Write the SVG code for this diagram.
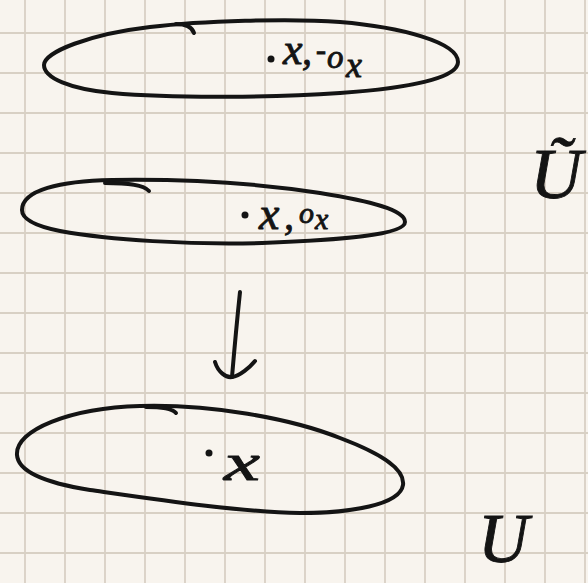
<svg xmlns="http://www.w3.org/2000/svg" width="588" height="583" viewBox="0 0 588 583">
<style>
.ink{fill:none;stroke:#141414;stroke-width:4;stroke-linecap:round;stroke-linejoin:round}
.grid line{stroke:#d8d0c4;stroke-width:1.8}
.lbl{font-family:"Liberation Serif","DejaVu Serif",serif;font-style:italic;fill:#141414;stroke:#141414;stroke-width:0.9}
.dot{fill:#141414}
</style>
<rect width="588" height="583" fill="#f8f4ee"/>
<g class="grid">
<line x1="25" y1="0" x2="25" y2="583"/><line x1="65" y1="0" x2="65" y2="583"/><line x1="105" y1="0" x2="105" y2="583"/><line x1="145" y1="0" x2="145" y2="583"/><line x1="185" y1="0" x2="185" y2="583"/><line x1="225" y1="0" x2="225" y2="583"/><line x1="265" y1="0" x2="265" y2="583"/><line x1="305" y1="0" x2="305" y2="583"/><line x1="345" y1="0" x2="345" y2="583"/><line x1="385" y1="0" x2="385" y2="583"/><line x1="425" y1="0" x2="425" y2="583"/><line x1="465" y1="0" x2="465" y2="583"/><line x1="505" y1="0" x2="505" y2="583"/><line x1="545" y1="0" x2="545" y2="583"/><line x1="585" y1="0" x2="585" y2="583"/>
<line x1="0" y1="33" x2="588" y2="33"/><line x1="0" y1="73" x2="588" y2="73"/><line x1="0" y1="113" x2="588" y2="113"/><line x1="0" y1="153" x2="588" y2="153"/><line x1="0" y1="193" x2="588" y2="193"/><line x1="0" y1="233" x2="588" y2="233"/><line x1="0" y1="273" x2="588" y2="273"/><line x1="0" y1="313" x2="588" y2="313"/><line x1="0" y1="353" x2="588" y2="353"/><line x1="0" y1="393" x2="588" y2="393"/><line x1="0" y1="433" x2="588" y2="433"/><line x1="0" y1="473" x2="588" y2="473"/><line x1="0" y1="513" x2="588" y2="513"/><line x1="0" y1="553" x2="588" y2="553"/>
</g>
<g id="sheet-minus">
<path class="ink" d="M 44,65 C 44,52 90,34 150,27 C 200,21 290,18 340,22 C 400,27 458,42 458,62 C 458,78 410,88 340,93 C 280,97 180,99 112,93 C 70,89 44,78 44,65 Z"/>
<path class="ink" d="M 176,24 C 186,24 192,27 194,33"/>
<circle class="dot" cx="271" cy="59" r="3.5"/>
<text class="lbl" y="64"><tspan x="283" font-size="44">x</tspan><tspan x="302" font-size="40">,</tspan><tspan x="316" y="60" font-size="30">-</tspan><tspan x="327" y="68" font-size="33">o</tspan><tspan x="346" y="77" font-size="36">x</tspan></text>
</g>
<g id="sheet-plus">
<path class="ink" d="M 22,210 C 22,190 60,181 112,180 C 180,179 250,182 320,193 C 370,201 405,210 405,222 C 405,235 340,240 262,243 C 190,245 110,240 60,231 C 35,226 22,219 22,210 Z"/>
<path class="ink" d="M 105,183 C 125,183 143,184 149,191"/>
<circle class="dot" cx="245" cy="215" r="3.5"/>
<text class="lbl" y="229"><tspan x="259" font-size="46">x</tspan><tspan x="284" font-size="40">,</tspan><tspan x="299" y="223" font-size="30">o</tspan><tspan x="315" y="229" font-size="30">x</tspan></text>
</g>
<g id="base">
<path class="ink" d="M 17,455 C 15,430 70,408 140,406 C 210,404 290,418 340,438 C 385,455 405,470 403,485 C 400,505 350,513 300,513 C 240,512 160,500 90,490 C 40,482 18,470 17,455 Z"/>
<path class="ink" d="M 146,407 C 160,407 172,408 176,413"/>
<circle class="dot" cx="209" cy="453" r="3.5"/>
<text class="lbl" x="224" y="480" font-size="52" textLength="36" lengthAdjust="spacingAndGlyphs">x</text>
</g>
<g id="connectors">
<path class="ink" d="M 240,292 Q 236,330 232,377"/>
<path class="ink" d="M 215,362 C 218,372 226,378 232,377 C 240,376 250,367 255,361"/>
</g>
<g id="label-cover">
<text class="lbl" x="530" y="198" font-size="72">Ũ</text>
</g>
<g id="label-base">
<text class="lbl" x="478" y="562" font-size="70">U</text>
</g>
</svg>
